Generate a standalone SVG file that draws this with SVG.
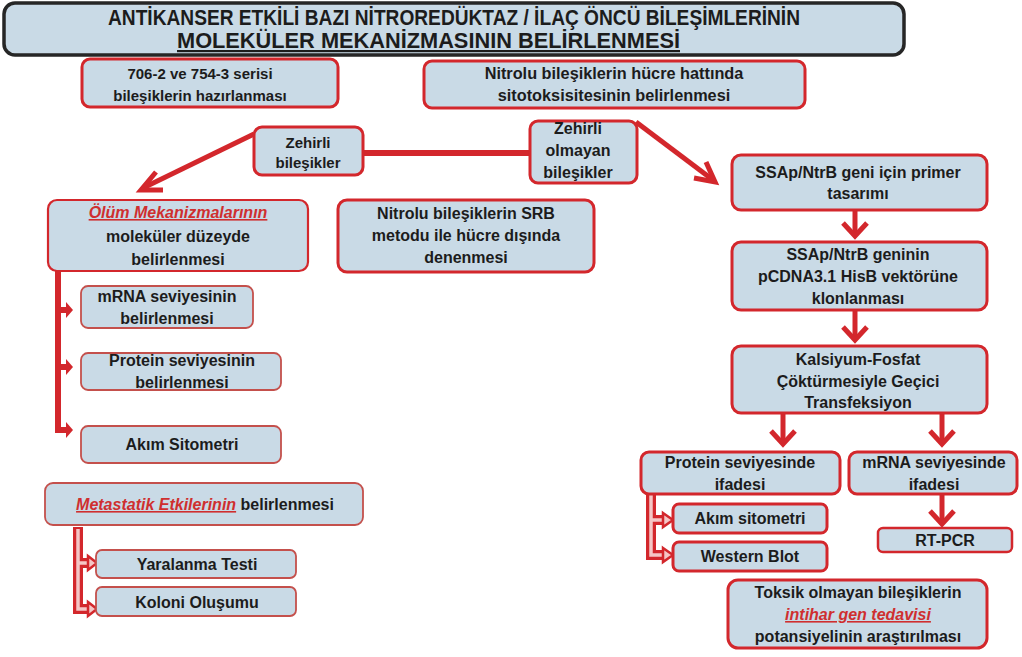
<svg xmlns="http://www.w3.org/2000/svg" width="1022" height="657" viewBox="0 0 1022 657">
<style>
  text { font-family: "Liberation Sans", Arial, sans-serif; font-weight: bold; fill: #1c1c1c; text-anchor: middle; }
  .t15 { font-size: 15px; }
  .t16 { font-size: 16px; }
  .box { fill: #c9dae6; stroke: #d3272c; stroke-width: 3; }
  .sub { fill: #c9dae6; stroke: #c4504c; stroke-width: 1.8; }
  .title { fill: #c9dae6; stroke: #262626; stroke-width: 3.5; }
  .red { fill: #cf2f2f; font-style: italic; text-decoration: underline; }
  .line { stroke: #d3272c; stroke-width: 5; fill: none; stroke-linecap: butt; }
  .chev { stroke: #d3272c; stroke-width: 5; fill: none; stroke-linejoin: miter; stroke-linecap: butt; }
  .hollowOut { stroke: #d3272c; stroke-width: 10; fill: none; stroke-linejoin: miter; }
  .hollowIn { stroke: #f5c6c6; stroke-width: 3.5; fill: none; stroke-linejoin: miter; }
  .hhead { fill: #f5c6c6; stroke: #d3272c; stroke-width: 2.5; stroke-linejoin: miter; }
  .shead { fill: #d3272c; }
</style>
<rect width="1022" height="657" fill="#ffffff"/>

<g id="connectors">
  <!-- Zehirli -> Ölüm -->
  <line class="line" x1="254" y1="134" x2="143" y2="188"/>
  <path class="chev" d="M156,172 L141,190 L163,190"/>
  <!-- Zehirli - Zehirli olmayan -->
  <line class="line" x1="362" y1="153" x2="531" y2="153" style="stroke-width:6"/>
  <!-- Zehirli olmayan -> SSAp -->
  <line class="line" x1="636" y1="122" x2="713" y2="180"/>
  <path class="chev" d="M706,162 L715,182 L694,178"/>
  <!-- vertical flow arrows -->
  <line class="line" x1="855" y1="210" x2="855" y2="236"/>
  <path class="chev" d="M843,223 L855,236 L867,223"/>
  <line class="line" x1="855" y1="310" x2="855" y2="340"/>
  <path class="chev" d="M843,327 L855,340 L867,327"/>
  <line class="line" x1="783" y1="414" x2="783" y2="444"/>
  <path class="chev" d="M771,431 L783,444 L795,431"/>
  <line class="line" x1="942" y1="414" x2="942" y2="444"/>
  <path class="chev" d="M930,431 L942,444 L954,431"/>
  <line class="line" x1="942" y1="495" x2="942" y2="524"/>
  <path class="chev" d="M930,511 L942,524 L954,511"/>
  <!-- Ölüm solid bracket -->
  <rect x="55" y="265" width="6" height="168" fill="#d3272c"/>
  <rect x="60" y="307" width="7" height="6" fill="#d3272c"/>
  <polygon class="shead" points="66,302 73,310 66,318"/>
  <rect x="60" y="364" width="7" height="6" fill="#d3272c"/>
  <polygon class="shead" points="66,359 73,367 66,375"/>
  <rect x="60" y="427" width="7" height="6" fill="#d3272c"/>
  <polygon class="shead" points="66,422 73,430 66,438"/>
  <!-- Metastatik hollow bracket -->
  <path class="hollowOut" d="M78,527 L78,609 L89,609 M78,563 L89,563"/>
  <path class="hollowIn" d="M78,529 L78,609 L90,609 M78,563 L90,563"/>
  <polygon class="hhead" points="88,556 97,563 88,570"/>
  <polygon class="hhead" points="88,602 97,609 88,616"/>
  <!-- Protein seviyesinde hollow bracket -->
  <path class="hollowOut" d="M651,489 L651,555 L664,555 M651,520 L664,520"/>
  <path class="hollowIn" d="M651,491 L651,555 L665,555 M651,520 L665,520"/>
  <polygon class="hhead" points="663,513 673,520 663,527"/>
  <polygon class="hhead" points="663,548 673,555 663,562"/>
</g>

<g id="title">
  <rect class="title" x="4" y="3" width="900" height="52" rx="11"/>
  <text x="108" y="25" style="font-size:22px;text-anchor:start" textLength="692" lengthAdjust="spacingAndGlyphs">ANTİKANSER ETKİLİ BAZI NİTROREDÜKTAZ / İLAÇ ÖNCÜ BİLEŞİMLERİNİN</text>
  <text x="177" y="48" style="font-size:22px;text-anchor:start;text-decoration:underline" textLength="503" lengthAdjust="spacingAndGlyphs">MOLEKÜLER MEKANİZMASININ BELİRLENMESİ</text>
</g>

<g id="n-hazirlanma">
  <rect class="box" x="82" y="59" width="256" height="48" rx="8"/>
  <text class="t15" x="200" y="79">706-2 ve 754-3 serisi</text>
  <text class="t15" x="200" y="101">bileşiklerin hazırlanması</text>
</g>

<g id="n-sitotoksisite">
  <rect class="box" x="424" y="61" width="381" height="47" rx="8"/>
  <text x="614" y="79" style="font-size:16.3px">Nitrolu bileşiklerin  hücre hattında</text>
  <text x="614" y="101" style="font-size:16.3px">sitotoksisitesinin belirlenmesi</text>
</g>

<g id="n-zehirli">
  <rect class="box" x="254" y="127" width="109" height="48" rx="8"/>
  <text class="t15" x="308" y="148">Zehirli</text>
  <text class="t15" x="308" y="168">bileşikler</text>
</g>

<g id="n-zehirli-olmayan">
  <rect class="box" x="530" y="121" width="107" height="62" rx="8"/>
  <text class="t16" x="578" y="134">Zehirli</text>
  <text class="t16" x="578" y="156">olmayan</text>
  <text class="t16" x="578" y="178">bileşikler</text>
</g>

<g id="n-olum">
  <rect class="box" x="48" y="200" width="260" height="71" rx="9" style="stroke-width:2.2"/>
  <text class="t16" x="178" y="218"><tspan class="red">Ölüm Mekanizmalarının</tspan></text>
  <text class="t16" x="178" y="242">moleküler düzeyde</text>
  <text class="t16" x="178" y="265">belirlenmesi</text>
</g>

<g id="n-srb">
  <rect class="box" x="338" y="200" width="256" height="72" rx="9"/>
  <text class="t16" x="466" y="219">Nitrolu bileşiklerin SRB</text>
  <text class="t16" x="466" y="241">metodu ile hücre dışında</text>
  <text class="t16" x="466" y="263">denenmesi</text>
</g>

<g id="n-mrna-sev">
  <rect class="sub" x="81" y="286" width="172" height="42" rx="7"/>
  <text class="t16" x="167" y="302">mRNA seviyesinin</text>
  <text class="t16" x="167" y="324">belirlenmesi</text>
</g>

<g id="n-protein-sev">
  <rect class="sub" x="81" y="353" width="200" height="37" rx="7"/>
  <text class="t16" x="182" y="366">Protein seviyesinin</text>
  <text class="t16" x="182" y="388">belirlenmesi</text>
</g>

<g id="n-akim-left">
  <rect class="sub" x="81" y="426" width="200" height="37" rx="7"/>
  <text class="t16" x="182" y="450">Akım Sitometri</text>
</g>

<g id="n-metastatik">
  <rect class="sub" x="45" y="483" width="318" height="42" rx="8"/>
  <text class="t16" x="205" y="510"><tspan class="red">Metastatik Etkilerinin</tspan> belirlenmesi</text>
</g>

<g id="n-yaralanma">
  <rect class="sub" x="96" y="550" width="200" height="28" rx="6"/>
  <text class="t16" x="197" y="570">Yaralanma Testi</text>
</g>

<g id="n-koloni">
  <rect class="sub" x="96" y="587" width="200" height="29" rx="6"/>
  <text class="t16" x="197" y="608">Koloni Oluşumu</text>
</g>

<g id="n-primer">
  <rect class="box" x="732" y="155" width="255" height="55" rx="9"/>
  <text class="t16" x="858" y="178">SSAp/NtrB geni için primer</text>
  <text class="t16" x="858" y="199">tasarımı</text>
</g>

<g id="n-klonlama">
  <rect class="box" x="732" y="242" width="255" height="68" rx="9"/>
  <text class="t16" x="858" y="260">SSAp/NtrB geninin</text>
  <text class="t16" x="858" y="282">pCDNA3.1 HisB vektörüne</text>
  <text class="t16" x="858" y="304">klonlanması</text>
</g>

<g id="n-transfeksiyon">
  <rect class="box" x="732" y="346" width="255" height="67" rx="9"/>
  <text class="t16" x="858" y="365">Kalsiyum-Fosfat</text>
  <text class="t16" x="858" y="387">Çöktürmesiyle Geçici</text>
  <text class="t16" x="858" y="408">Transfeksiyon</text>
</g>

<g id="n-protein-ifade">
  <rect class="box" x="641" y="452" width="199" height="42" rx="8"/>
  <text class="t16" x="740" y="468">Protein seviyesinde</text>
  <text class="t16" x="740" y="490">ifadesi</text>
</g>

<g id="n-mrna-ifade">
  <rect class="box" x="849" y="452" width="168" height="42" rx="8"/>
  <text class="t16" x="934" y="468">mRNA seviyesinde</text>
  <text class="t16" x="934" y="490">ifadesi</text>
</g>

<g id="n-akim-right">
  <rect class="box" x="673" y="504" width="154" height="29" rx="6"/>
  <text class="t16" x="750" y="524">Akım  sitometri</text>
</g>

<g id="n-western">
  <rect class="box" x="673" y="542" width="154" height="29" rx="6"/>
  <text class="t16" x="750" y="562">Western Blot</text>
</g>

<g id="n-rtpcr">
  <rect class="box" x="878" y="528" width="134" height="24" rx="5" style="stroke-width:2.5"/>
  <text class="t16" x="945" y="546">RT-PCR</text>
</g>

<g id="n-toksik">
  <rect class="box" x="728" y="580" width="259" height="68" rx="10"/>
  <text class="t16" x="858" y="598">Toksik olmayan bileşiklerin</text>
  <text class="t16" x="858" y="620"><tspan class="red">intihar gen tedavisi</tspan></text>
  <text class="t16" x="858" y="642">potansiyelinin araştırılması</text>
</g>
</svg>
